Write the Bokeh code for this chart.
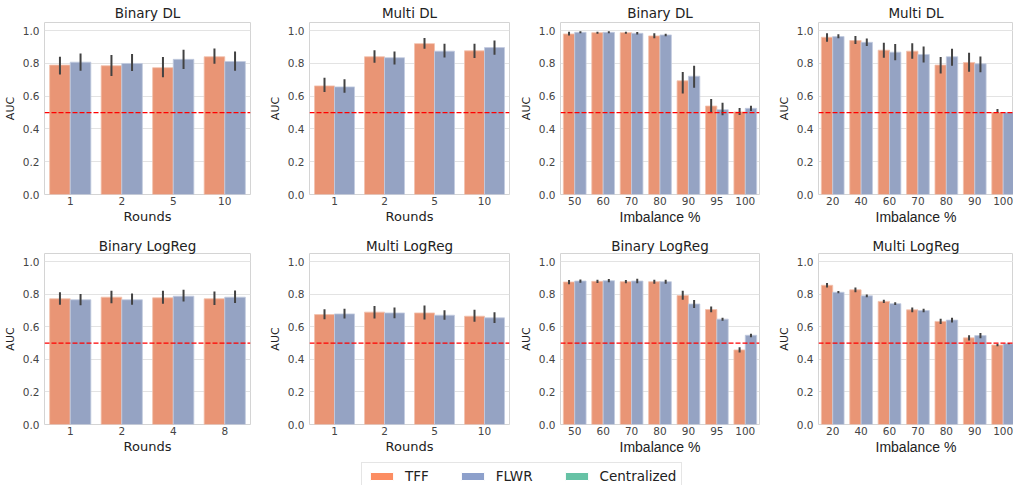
from bokeh.plotting import figure
from bokeh.layouts import column, row
from bokeh.models import (ColumnDataSource, Span, FixedTicker, PrintfTickFormatter,
                          Range1d, Legend, LegendItem)
from bokeh.transform import dodge
from bokeh.embed import file_html
from bokeh.resources import INLINE

# ---------------- data ----------------
rounds_a = ["1", "2", "5", "10"]
rounds_b = ["1", "2", "4", "8"]
imb_bin = ["50", "60", "70", "80", "90", "95", "100"]
imb_multi = ["20", "40", "60", "70", "80", "90", "100"]

# Binary DL vs rounds
bdl_r_tff = [0.790, 0.786, 0.774, 0.841]
bdl_r_tff_lo = [0.732, 0.724, 0.716, 0.798]
bdl_r_tff_hi = [0.841, 0.851, 0.839, 0.891]
bdl_r_flwr = [0.808, 0.800, 0.825, 0.812]
bdl_r_flwr_lo = [0.756, 0.754, 0.766, 0.756]
bdl_r_flwr_hi = [0.861, 0.857, 0.883, 0.873]

# Multi DL vs rounds
mdl_r_tff = [0.663, 0.841, 0.921, 0.877]
mdl_r_tff_lo = [0.625, 0.804, 0.889, 0.833]
mdl_r_tff_hi = [0.712, 0.881, 0.956, 0.921]
mdl_r_flwr = [0.657, 0.835, 0.875, 0.897]
mdl_r_flwr_lo = [0.621, 0.794, 0.837, 0.853]
mdl_r_flwr_hi = [0.704, 0.873, 0.921, 0.940]

# Binary DL vs imbalance
bdl_i_tff = [0.980, 0.988, 0.988, 0.968, 0.694, 0.540, 0.504]
bdl_i_tff_lo = [0.970, 0.982, 0.982, 0.954, 0.617, 0.500, 0.486]
bdl_i_tff_hi = [0.994, 0.994, 0.994, 0.984, 0.748, 0.583, 0.528]
bdl_i_flwr = [0.990, 0.990, 0.984, 0.974, 0.722, 0.518, 0.526]
bdl_i_flwr_lo = [0.984, 0.984, 0.976, 0.966, 0.651, 0.484, 0.510]
bdl_i_flwr_hi = [0.996, 0.996, 0.992, 0.982, 0.786, 0.560, 0.542]

# Multi DL vs imbalance
mdl_i_tff = [0.960, 0.940, 0.881, 0.875, 0.790, 0.806, 0.500]
mdl_i_tff_lo = [0.933, 0.919, 0.835, 0.829, 0.738, 0.750, 0.498]
mdl_i_tff_hi = [0.984, 0.968, 0.927, 0.923, 0.839, 0.865, 0.522]
mdl_i_flwr = [0.964, 0.929, 0.869, 0.855, 0.841, 0.798, 0.500]
mdl_i_flwr_lo = [0.954, 0.907, 0.819, 0.806, 0.786, 0.746, 0.498]
mdl_i_flwr_hi = [0.978, 0.952, 0.919, 0.903, 0.889, 0.843, 0.502]

# Binary LogReg vs rounds
blr_r_tff = [0.772, 0.782, 0.778, 0.772]
blr_r_tff_lo = [0.736, 0.744, 0.742, 0.734]
blr_r_tff_hi = [0.812, 0.821, 0.821, 0.817]
blr_r_flwr = [0.766, 0.766, 0.788, 0.782]
blr_r_flwr_lo = [0.732, 0.736, 0.756, 0.746]
blr_r_flwr_hi = [0.802, 0.804, 0.827, 0.823]

# Multi LogReg vs rounds
mlr_r_tff = [0.675, 0.690, 0.685, 0.665]
mlr_r_tff_lo = [0.647, 0.651, 0.645, 0.631]
mlr_r_tff_hi = [0.708, 0.728, 0.730, 0.704]
mlr_r_flwr = [0.679, 0.685, 0.671, 0.655]
mlr_r_flwr_lo = [0.651, 0.653, 0.643, 0.623]
mlr_r_flwr_hi = [0.710, 0.718, 0.702, 0.690]

# Binary LogReg vs imbalance
blr_i_tff = [0.875, 0.879, 0.877, 0.877, 0.792, 0.706, 0.458]
blr_i_tff_lo = [0.861, 0.869, 0.867, 0.865, 0.766, 0.690, 0.442]
blr_i_tff_hi = [0.887, 0.889, 0.887, 0.889, 0.821, 0.724, 0.474]
blr_i_flwr = [0.881, 0.883, 0.881, 0.877, 0.740, 0.647, 0.548]
blr_i_flwr_lo = [0.871, 0.873, 0.867, 0.865, 0.716, 0.637, 0.536]
blr_i_flwr_hi = [0.891, 0.893, 0.895, 0.889, 0.764, 0.655, 0.558]

# Multi LogReg vs imbalance
mlr_i_tff = [0.855, 0.827, 0.756, 0.704, 0.633, 0.532, 0.488]
mlr_i_tff_lo = [0.841, 0.812, 0.746, 0.690, 0.617, 0.516, 0.480]
mlr_i_tff_hi = [0.869, 0.841, 0.766, 0.718, 0.649, 0.548, 0.496]
mlr_i_flwr = [0.812, 0.790, 0.742, 0.700, 0.641, 0.546, 0.496]
mlr_i_flwr_lo = [0.806, 0.782, 0.734, 0.690, 0.627, 0.530, 0.492]
mlr_i_flwr_hi = [0.819, 0.798, 0.750, 0.710, 0.655, 0.562, 0.500]

series_names = ["TFF", "FLWR", "Centralized"]

# ---------------- style ----------------
FONT = "DejaVu Sans"
FONT2 = "Liberation Sans"
BAR_TFF = "#e99575"
BAR_FLWR = "#95a3c3"
LEG_COLORS = ["#fc8d62", "#8da0cb", "#66c2a5"]
GRID = "#e3e3e3"
EDGE = "#d4d4d4"
ERR = "#424242"


def make_panel(title, cats, tff, tlo, thi, flwr, flo, fhi, xlabel,
               width, height, bl, br, bt, bb, xend=None, tstand=0):
    n = len(cats)
    idx = list(range(n))
    src = ColumnDataSource(dict(x=idx, tff=tff, tlo=tlo, thi=thi,
                                flwr=flwr, flo=flo, fhi=fhi))
    p = figure(width=width, height=height, output_backend="svg",
               toolbar_location=None,
               x_range=Range1d(-0.5, n - 0.5 if xend is None else xend),
               y_range=Range1d(0, 1.05),
               min_border_left=bl, min_border_right=br,
               min_border_top=bt, min_border_bottom=bb)
    p.title.text = title
    p.title.align = "center"
    p.title.text_font = FONT
    p.title.text_font_size = "13.5px"
    p.title.text_font_style = "normal"
    p.title.text_color = "#222222"
    p.title.standoff = tstand

    p.vbar(x=dodge("x", -0.2), top="tff", width=0.4, source=src,
           fill_color=BAR_TFF, line_color="#f3c2ad", line_width=0.8)
    p.vbar(x=dodge("x", 0.2), top="flwr", width=0.4, source=src,
           fill_color=BAR_FLWR, line_color="#c3cbe0", line_width=0.8)
    p.segment(x0=dodge("x", -0.2), x1=dodge("x", -0.2), y0="tlo", y1="thi",
              source=src, line_color=ERR, line_width=2)
    p.segment(x0=dodge("x", 0.2), x1=dodge("x", 0.2), y0="flo", y1="fhi",
              source=src, line_color=ERR, line_width=2)

    p.add_layout(Span(location=0.5, dimension="width", line_color="#ff0000",
                      line_dash="5 2", line_width=1.3))

    p.xaxis.ticker = FixedTicker(ticks=idx)
    p.xaxis.major_label_overrides = {i: c for i, c in enumerate(cats)}
    p.yaxis.ticker = FixedTicker(ticks=[0.0, 0.2, 0.4, 0.6, 0.8, 1.0])
    p.yaxis.formatter = PrintfTickFormatter(format="%.1f")
    p.xaxis.axis_label = xlabel
    p.yaxis.axis_label = "AUC"
    for ax in (p.xaxis, p.yaxis):
        ax.axis_line_color = None
        ax.major_tick_line_color = None
        ax.minor_tick_line_color = None
        ax.major_tick_out = 0
        ax.major_tick_in = 0
        ax.minor_tick_out = 0
        ax.minor_tick_in = 0
        ax.major_label_text_font = FONT
        ax.major_label_text_font_size = "10.5px"
        ax.major_label_text_color = "#444444"
        ax.axis_label_text_font = FONT
        ax.axis_label_text_font_style = "normal"
        ax.axis_label_text_color = "#222222"
    p.yaxis.major_label_standoff = 5
    p.yaxis.axis_label_standoff = 3
    p.yaxis.axis_label_text_font_size = "11px"
    p.xaxis.major_label_standoff = 2
    p.xaxis.axis_label_standoff = 1
    if xlabel == "Rounds":
        p.xaxis.axis_label_text_font_size = "13px"
    else:
        p.xaxis.axis_label_text_font = FONT2
        p.xaxis.axis_label_text_font_size = "14px"
    p.xgrid.visible = False
    p.ygrid.grid_line_color = GRID
    p.outline_line_color = EDGE
    p.outline_line_width = 1
    p.background_fill_color = "white"
    p.border_fill_color = "white"
    return p


widths = [265, 251, 258, 239]
lefts = [44, 37, 37, 37]
rights = [15, 7, 15, 0]
xends = [None, None, None, 6.364]

top_specs = [
    ("Binary DL", rounds_a, bdl_r_tff, bdl_r_tff_lo, bdl_r_tff_hi, bdl_r_flwr, bdl_r_flwr_lo, bdl_r_flwr_hi, "Rounds"),
    ("Multi DL", rounds_a, mdl_r_tff, mdl_r_tff_lo, mdl_r_tff_hi, mdl_r_flwr, mdl_r_flwr_lo, mdl_r_flwr_hi, "Rounds"),
    ("Binary DL", imb_bin, bdl_i_tff, bdl_i_tff_lo, bdl_i_tff_hi, bdl_i_flwr, bdl_i_flwr_lo, bdl_i_flwr_hi, "Imbalance %"),
    ("Multi DL", imb_multi, mdl_i_tff, mdl_i_tff_lo, mdl_i_tff_hi, mdl_i_flwr, mdl_i_flwr_lo, mdl_i_flwr_hi, "Imbalance %"),
]
bot_specs = [
    ("Binary LogReg", rounds_b, blr_r_tff, blr_r_tff_lo, blr_r_tff_hi, blr_r_flwr, blr_r_flwr_lo, blr_r_flwr_hi, "Rounds"),
    ("Multi LogReg", rounds_a, mlr_r_tff, mlr_r_tff_lo, mlr_r_tff_hi, mlr_r_flwr, mlr_r_flwr_lo, mlr_r_flwr_hi, "Rounds"),
    ("Binary LogReg", imb_bin, blr_i_tff, blr_i_tff_lo, blr_i_tff_hi, blr_i_flwr, blr_i_flwr_lo, blr_i_flwr_hi, "Imbalance %"),
    ("Multi LogReg", imb_multi, mlr_i_tff, mlr_i_tff_lo, mlr_i_tff_hi, mlr_i_flwr, mlr_i_flwr_lo, mlr_i_flwr_hi, "Imbalance %"),
]

top_figs = [make_panel(*s, width=widths[i], height=227, bl=lefts[i], br=rights[i],
                       bt=21, bb=31, xend=xends[i], tstand=4) for i, s in enumerate(top_specs)]
bot_figs = [make_panel(*s, width=widths[i], height=230, bl=lefts[i], br=rights[i],
                       bt=26, bb=31, xend=xends[i], tstand=0) for i, s in enumerate(bot_specs)]

# ---------------- legend strip ----------------
lf = figure(width=1013, height=28, output_backend="svg", toolbar_location=None,
            x_range=Range1d(0, 1), y_range=Range1d(0, 1),
            min_border=0, outline_line_color=None)
lf.axis.visible = False
lf.grid.visible = False
items = []
for name, col in zip(series_names, LEG_COLORS):
    # legend proxy only: NaN data draws nothing in the strip itself
    r = lf.vbar(x=[float("nan")], top=[float("nan")], width=0.1,
                fill_color=col, line_color="white", line_width=1)
    items.append(LegendItem(label=name, renderers=[r]))
legend = Legend(items=items, orientation="horizontal", location=(361, -5),
                label_text_font=FONT, label_text_font_size="13.5px",
                label_text_color="#222222",
                glyph_width=29, glyph_height=10, label_standoff=9, spacing=29,
                padding=5, margin=0, border_line_color="#cccccc",
                background_fill_alpha=1)
lf.add_layout(legend)

layout = column(row(*top_figs), row(*bot_figs), lf)
open("out.html", "w").write(file_html(layout, INLINE))
